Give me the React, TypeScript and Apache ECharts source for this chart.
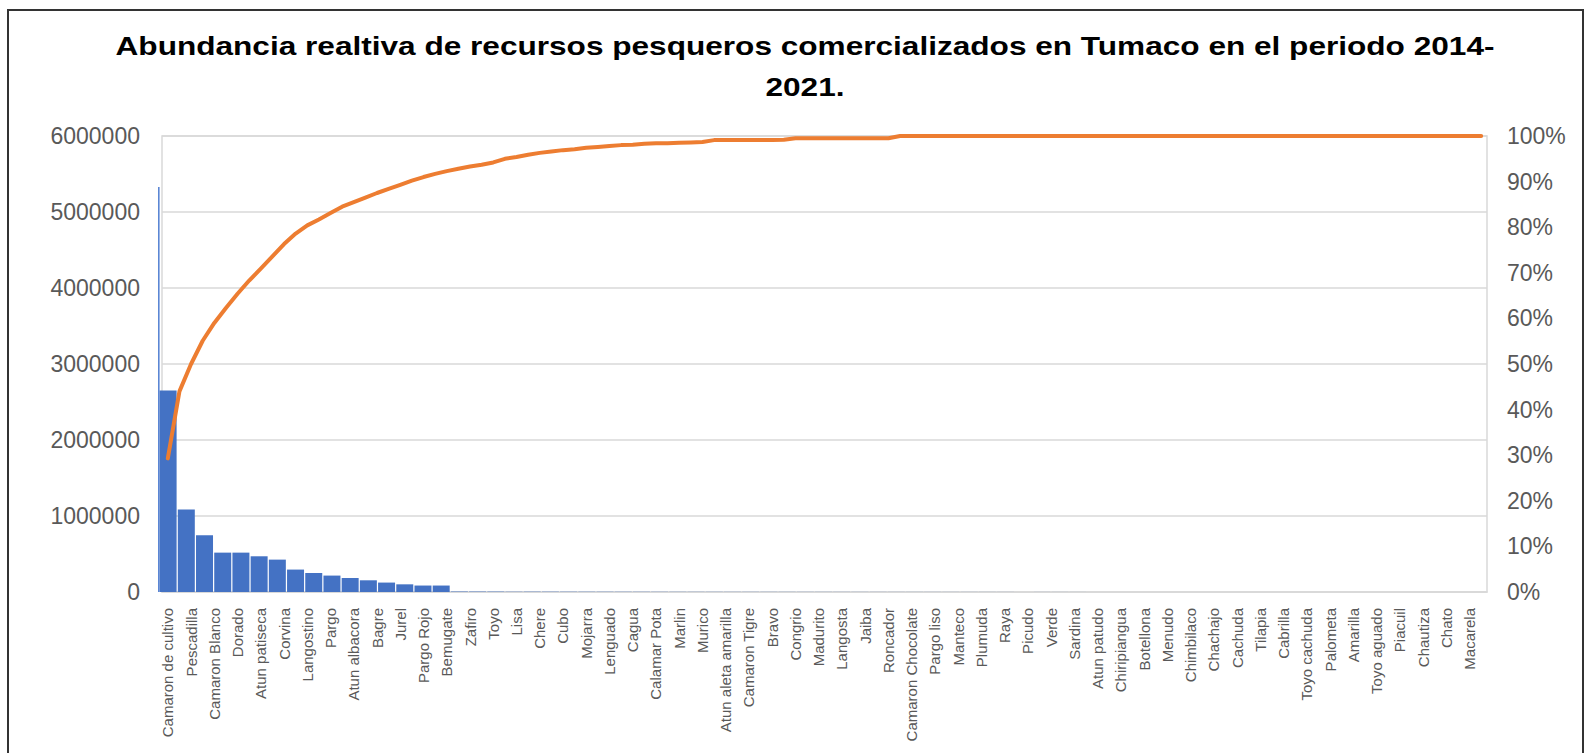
import React, { useEffect, useRef } from "react";
import * as echarts from "echarts";

const titleText =
  "Abundancia realtiva de recursos pesqueros comercializados en Tumaco en el periodo 2014-\n2021.";

// Species shown on the axis (every other category carries a label)
const labeledSpecies = [
  "Camaron de cultivo", "Pescadilla", "Camaron Blanco", "Dorado", "Atun patiseca",
  "Corvina", "Langostino", "Pargo", "Atun albacora", "Bagre", "Jurel", "Pargo Rojo",
  "Bemugate", "Zafiro", "Toyo", "Lisa", "Chere", "Cubo", "Mojarra", "Lenguado",
  "Cagua", "Calamar Pota", "Marlin", "Murico", "Atun aleta amarilla", "Camaron Tigre",
  "Bravo", "Congrio", "Madurito", "Langosta", "Jaiba", "Roncador", "Camaron Chocolate",
  "Pargo liso", "Manteco", "Plumuda", "Raya", "Picudo", "Verde", "Sardina",
  "Atun patudo", "Chiripiangua", "Botellona", "Menudo", "Chimbilaco", "Chachajo",
  "Cachuda", "Tilapia", "Cabrilla", "Toyo cachuda", "Palometa", "Amarilla",
  "Toyo aguado", "Piacuil", "Chautiza", "Chato", "Macarela",
];

// Cumulative percentage (line), one value per category (114)
const cumulativePercent = [
  29.3, 44.0, 50.0, 55.1, 59.0, 62.3, 65.4, 68.3, 70.9, 73.6,
  76.3, 78.6, 80.4, 81.7, 83.1, 84.5, 85.5, 86.5, 87.5, 88.4,
  89.3, 90.2, 91.0, 91.7, 92.3, 92.8, 93.3, 93.7, 94.2, 95.0,
  95.4, 95.9, 96.3, 96.6, 96.9, 97.1, 97.4, 97.6, 97.8, 98.0,
  98.1, 98.3, 98.4, 98.4, 98.5, 98.6, 98.7, 99.1, 99.1, 99.1,
  99.1, 99.1, 99.1, 99.2, 99.5, 99.5, 99.5, 99.5, 99.5, 99.5,
  99.5, 99.5, 99.5, 100, 100, 100, 100, 100, 100, 100,
  100, 100, 100, 100, 100, 100, 100, 100, 100, 100,
  100, 100, 100, 100, 100, 100, 100, 100, 100, 100,
  100, 100, 100, 100, 100, 100, 100, 100, 100, 100,
  100, 100, 100, 100, 100, 100, 100, 100, 100, 100,
  100, 100, 100, 100,
];

// Abundance bars (73 bar slots)
const barValues = [
  2650000, 1085000, 746000, 518000, 518000, 470000, 426000, 295000, 250000, 216000,
  184000, 154000, 124000, 101000, 85000, 85000,
  6000, 5500, 5000, 4500, 4000, 3800, 3500, 3200, 3000, 2800,
  2600, 2400, 2200, 2000, 1900, 1800, 1700, 1600, 1500, 1400,
  1300, 1200, 1100, 1000, 950, 900, 850, 800, 750, 700,
  650, 600, 550, 500, 450, 400, 350, 300, 250, 200,
  180, 160, 140, 120, 100, 90, 80, 70, 60, 50,
  40, 30, 20, 15, 10, 5, 2,
];

// Thin tall bar at the left edge of the plot
const outlierValues = [5330000];

const leftMax = 6000000;
const leftInterval = 1000000;
const rightMax = 100;
const rightInterval = 10;

const categories: string[] = [];
labeledSpecies.forEach((name) => {
  categories.push(name);
  categories.push("");
});
const barSlots = barValues.map((_, i) => "s" + i);

const grey = "#595959";
const gridGrey = "#d9d9d9";

export default function App() {
  const ref = useRef<HTMLDivElement>(null);
  useEffect(() => {
    const chart = echarts.init(ref.current!, undefined, { renderer: "svg" });
    const option: any = {
      animation: false,
      backgroundColor: "#ffffff",
      graphic: [
        {
          type: "text",
          x: 805,
          y: 26,
          scaleX: 1.215,
          style: {
            text: titleText,
            fontSize: 26,
            fontWeight: "bold",
            fontFamily: "Liberation Sans",
            fill: "#000000",
            align: "center",
            verticalAlign: "top",
            lineHeight: 41,
          },
        },
      ],
      grid: [
        {
          left: 162,
          top: 136,
          width: 1325,
          height: 456,
          show: true,
          borderColor: gridGrey,
          borderWidth: 1.5,
          backgroundColor: "transparent",
        },
        { left: 158, top: 136, width: 1329, height: 456, show: false },
      ],
      xAxis: [
        {
          type: "category",
          gridIndex: 0,
          data: categories,
          boundaryGap: true,
          axisLine: { lineStyle: { color: gridGrey, width: 1.5 } },
          axisTick: { show: false },
          axisLabel: {
            interval: 1,
            rotate: 90,
            margin: 16,
            fontSize: 15,
            fontFamily: "Liberation Sans",
            color: grey,
          },
          splitLine: { show: false },
        },
        {
          type: "category",
          gridIndex: 1,
          data: barSlots,
          boundaryGap: true,
          show: false,
        },
      ],
      yAxis: [
        {
          type: "value",
          gridIndex: 0,
          min: 0,
          max: leftMax,
          interval: leftInterval,
          position: "left",
          axisLine: { show: false },
          axisTick: { show: false },
          axisLabel: {
            margin: 22,
            fontSize: 23,
            fontFamily: "Liberation Sans",
            color: grey,
            formatter: (v: number) => String(v),
          },
          splitLine: { lineStyle: { color: gridGrey, width: 1.5 } },
        },
        {
          type: "value",
          gridIndex: 0,
          min: 0,
          max: rightMax,
          interval: rightInterval,
          position: "right",
          axisLine: { show: false },
          axisTick: { show: false },
          axisLabel: {
            margin: 20,
            fontSize: 23,
            fontFamily: "Liberation Sans",
            color: grey,
            formatter: "{value}%",
          },
          splitLine: { show: false },
        },
        {
          type: "value",
          gridIndex: 1,
          min: 0,
          max: leftMax,
          show: false,
          splitLine: { show: false },
        },
      ],
      series: [
        {
          name: "outlier",
          type: "bar",
          xAxisIndex: 1,
          yAxisIndex: 2,
          data: outlierValues,
          barWidth: 2,
          barGap: "0%",
          itemStyle: { color: "#5b86d4" },
          z: 2,
        },
        {
          name: "Abundancia",
          type: "bar",
          xAxisIndex: 1,
          yAxisIndex: 2,
          data: barValues,
          barWidth: 17,
          barGap: "0%",
          itemStyle: { color: "#4472c4" },
          z: 2,
        },
        {
          name: "Acumulado",
          type: "line",
          xAxisIndex: 0,
          yAxisIndex: 1,
          data: cumulativePercent,
          showSymbol: false,
          symbol: "none",
          lineStyle: { color: "#ed7d31", width: 4, cap: "round", join: "round" },
          z: 5,
        },
      ],
    };
    chart.setOption(option);
    return () => chart.dispose();
  }, []);

  return (
    <div
      style={{
        position: "fixed",
        left: 0,
        top: 0,
        width: 1587,
        height: 753,
        background: "#ffffff",
        overflow: "hidden",
      }}
    >
      <div ref={ref} style={{ position: "absolute", left: 0, top: 0, width: 1587, height: 753 }} />
      <div
        style={{
          position: "absolute",
          left: 7,
          top: 9,
          width: 1577,
          height: 800,
          border: "2px solid #333333",
          boxSizing: "border-box",
          pointerEvents: "none",
        }}
      />
    </div>
  );
}
